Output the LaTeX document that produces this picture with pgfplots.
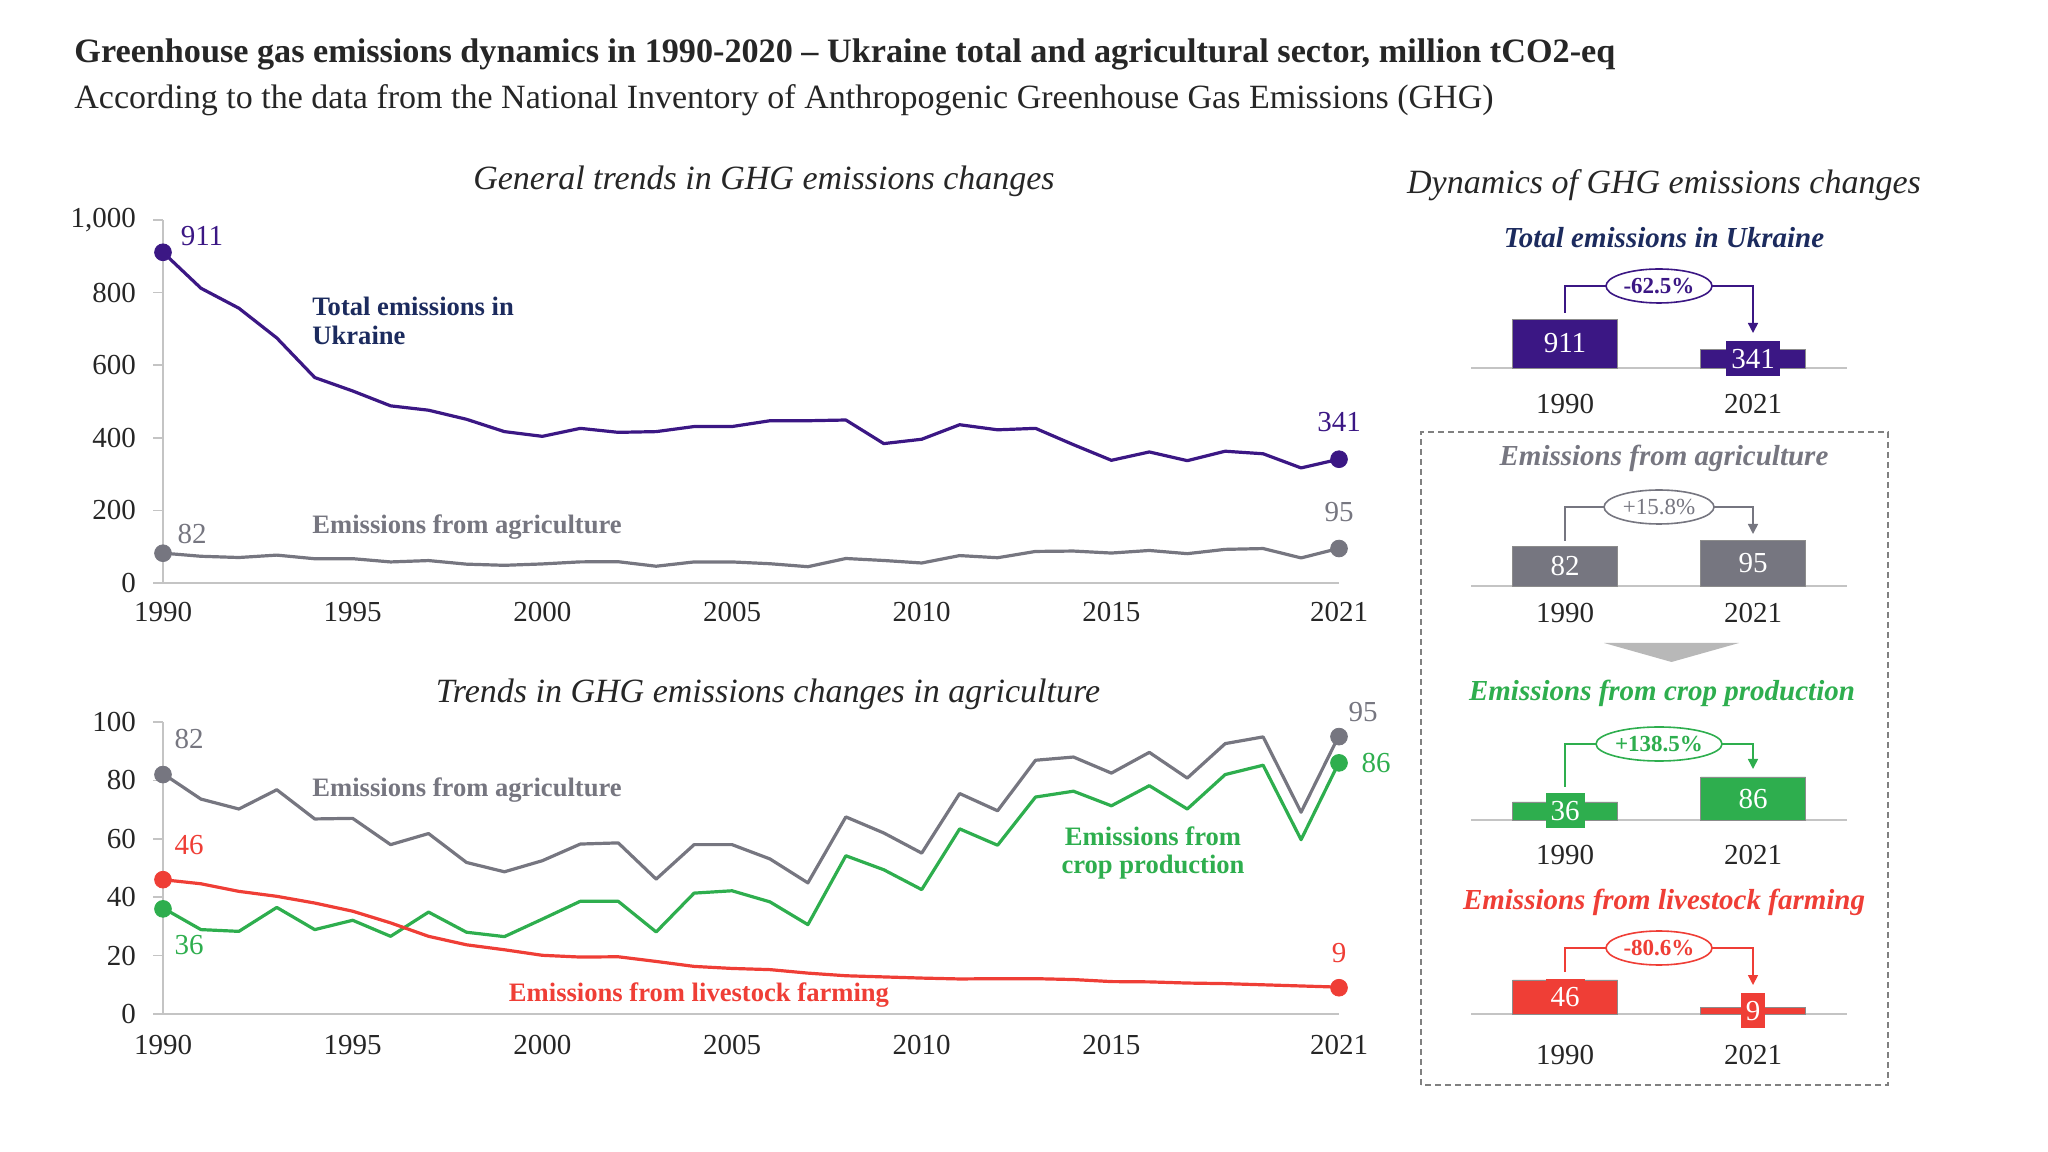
\documentclass[border=0pt]{standalone}
\usepackage{fontspec}
\setmainfont{Liberation Serif}
\usepackage{pgfplots}
\pgfplotsset{compat=1.18}
\usepackage{pgfplotstable}
\usetikzlibrary{arrows.meta,shapes.geometric}

\definecolor{cPur}{HTML}{3B1784}
\definecolor{cNavy}{HTML}{1C2B5E}
\definecolor{cGray}{HTML}{767680}
\definecolor{cGreen}{HTML}{2EAE4E}
\definecolor{cRed}{HTML}{EF3E36}
\definecolor{cAxis}{HTML}{C4C4C4}
\definecolor{cText}{HTML}{262626}

\newcommand\tickfont{\fontsize{14.5}{16}\selectfont}
\newcommand\lblfont{\fontsize{13.3}{14.3}\selectfont\bfseries}
\newcommand\headfont{\fontsize{14.5}{16}\selectfont\bfseries\itshape}
\newcommand\pctfont{\fontsize{11.5}{12}\selectfont}
\newcommand\ttlfont{\fontsize{17}{19}\selectfont\itshape}

% values, million tCO2-eq
\pgfplotstableread{
year total agri crop live
1990 911 82.3 36.3 46.0
1991 812 73.6 28.9 44.6
1992 757 70.2 28.3 42.0
1993 675 76.8 36.5 40.3
1994 566 66.8 28.9 38.0
1995 529 67.0 32.1 35.2
1996 488 58.0 26.6 31.2
1997 476 61.8 34.9 26.6
1998 451 51.9 28.0 23.7
1999 417 48.7 26.5 22.0
2000 404 52.5 32.5 20.1
2001 426 58.2 38.6 19.5
2002 415 58.6 38.6 19.6
2003 417 46.2 28.1 18.0
2004 431 58.0 41.4 16.3
2005 431 58.0 42.2 15.6
2006 447 53.1 38.4 15.2
2007 447 44.9 30.6 14.0
2008 449 67.5 54.2 13.1
2009 384 62.0 49.4 12.7
2010 396 55.1 42.6 12.3
2011 436 75.5 63.4 12.0
2012 422 69.6 57.8 12.1
2013 426 86.9 74.3 12.1
2014 381 88.0 76.3 11.8
2015 338 82.5 71.3 11.1
2016 361 89.6 78.2 11.0
2017 337 80.8 70.2 10.6
2018 363 92.6 82.0 10.4
2019 356 94.9 85.2 10.0
2020 317 69.1 59.7 9.6
2021 341 95.4 86.2 9.2
}\ghg

\tikzset{
  pct/.style={ellipse, fill=white, line width=0.8pt, inner sep=0pt,
    minimum width=53pt, minimum height=17pt, font=\pctfont},
}

\pgfplotsset{
  /pgf/number format/assume math mode=true,
  lineax/.style={
    scale only axis, anchor=south west,
    axis lines=left,
    axis line style={draw=cAxis, line width=0.8pt, -},
    enlargelimits=false, clip=false,
    xmin=1990, xmax=2021,
    xtick={1990,1995,2000,2005,2010,2015,2021},
    xticklabels={1990,1995,2000,2005,2010,2015,2021},
    x tick style={draw=none},
    y tick style={draw=cAxis, line width=0.8pt},
    tick align=outside, major tick length=5pt,
    tick label style={font=\tickfont, text=cText},
    yticklabel style={xshift=-5pt},
    xticklabel style={yshift=-1pt},
  },
  barax/.style={
    scale only axis, anchor=south west,
    width=188pt, height=30pt,
    xmin=-0.5, xmax=1.5, ymin=0,
    enlargelimits=false, clip=false,
    ybar, bar width=52.5pt,
    axis x line=bottom, axis y line=none,
    x axis line style={draw=cAxis, line width=0.8pt, -},
    xtick={0,1}, xticklabels={1990,2021},
    major tick length=0pt, ytick=\empty,
    xticklabel style={font=\tickfont, text=cText},
    nodes near coords,
    visualization depends on={y \as \rawy},
    every node near coord/.append style={anchor=center, text=white,
      font=\tickfont, inner xsep=2.5pt, inner ysep=0pt,
      minimum height=17.5pt,
      shift={(axis direction cs:0,-\rawy/2)}},
  },
}

\begin{document}
\begin{tikzpicture}
\useasboundingbox (0,0) rectangle (1024pt,575.5pt);

\node[anchor=west, inner sep=0pt, text=cText, font=\fontsize{17.1}{19}\selectfont\bfseries]
  at (37pt,548.5pt) {Greenhouse gas emissions dynamics in 1990-2020 -- Ukraine total and agricultural sector, million tCO2-eq};
\node[anchor=west, inner sep=0pt, text=cText, font=\fontsize{17}{19}\selectfont]
  at (37pt,525.5pt) {According to the data from the National Inventory of Anthropogenic Greenhouse Gas Emissions (GHG)};

\node[text=cText, font=\ttlfont] at (382pt,485pt) {General trends in GHG emissions changes};
\node[text=cText, font=\ttlfont] at (384pt,228.5pt) {Trends in GHG emissions changes in agriculture};
\node[text=cText, font=\ttlfont] at (832pt,483pt) {Dynamics of GHG emissions changes};

% ---- top: total and agriculture
\begin{axis}[lineax, at={(81.5pt,284pt)}, width=588pt, height=181.5pt,
  ymin=0, ymax=1000, ytick={0,200,400,600,800,1000},
  yticklabels={0,200,400,600,800,{1,000}}]
\addplot[cGray, line width=1.6pt, line join=round] table[x=year,y=agri]{\ghg};
\addplot[cPur, line width=1.6pt, line join=round] table[x=year,y=total]{\ghg};
\addplot[only marks, mark=*, mark size=4.2pt, cPur] coordinates {(1990,911) (2021,341)};
\addplot[only marks, mark=*, mark size=4.2pt, cGray] coordinates {(1990,82) (2021,95)};
\node[text=cPur, font=\tickfont] at ([xshift=19.5pt,yshift=8pt]axis cs:1990,911) {911};
\node[text=cPur, font=\tickfont] at ([yshift=18.5pt]axis cs:2021,341) {341};
\node[text=cGray, font=\tickfont] at ([xshift=14.5pt,yshift=9.5pt]axis cs:1990,82) {82};
\node[text=cGray, font=\tickfont] at ([yshift=18pt]axis cs:2021,95) {95};
\end{axis}
\node[anchor=west, align=left, text=cNavy, font=\lblfont, inner sep=0pt] at (156pt,415pt) {Total emissions in\\Ukraine};
\node[anchor=west, text=cGray, font=\lblfont, inner sep=0pt] at (156pt,312pt) {Emissions from agriculture};

% ---- bottom: agriculture split
\begin{axis}[lineax, at={(81.5pt,68.5pt)}, width=588pt, height=146pt,
  ymin=0, ymax=100, ytick={0,20,40,60,80,100}, xticklabel style={yshift=-1pt}]
\addplot[cGray, line width=1.6pt, line join=round] table[x=year,y=agri]{\ghg};
\addplot[cGreen, line width=1.6pt, line join=round] table[x=year,y=crop]{\ghg};
\addplot[cRed, line width=1.6pt, line join=round] table[x=year,y=live]{\ghg};
\addplot[only marks, mark=*, mark size=4.2pt, cGray] coordinates {(1990,82) (2021,95)};
\addplot[only marks, mark=*, mark size=4.2pt, cGreen] coordinates {(1990,36) (2021,86)};
\addplot[only marks, mark=*, mark size=4.2pt, cRed] coordinates {(1990,46) (2021,9)};
\node[text=cGray, font=\tickfont] at ([xshift=13pt,yshift=17.8pt]axis cs:1990,82) {82};
\node[text=cRed, font=\tickfont] at ([xshift=13pt,yshift=17.3pt]axis cs:1990,46) {46};
\node[text=cGreen, font=\tickfont] at ([xshift=13pt,yshift=-18pt]axis cs:1990,36) {36};
\node[text=cGray, font=\tickfont] at ([xshift=12pt,yshift=12.3pt]axis cs:2021,95) {95};
\node[text=cGreen, font=\tickfont] at ([xshift=18.5pt]axis cs:2021,86) {86};
\node[text=cRed, font=\tickfont] at ([yshift=17.4pt]axis cs:2021,9) {9};
\end{axis}
\node[anchor=west, text=cGray, font=\lblfont, inner sep=0pt] at (156pt,180.5pt) {Emissions from agriculture};
\node[align=center, text=cGreen, font=\lblfont, inner sep=0pt] at (576.5pt,149pt) {Emissions from\\crop production};
\node[text=cRed, font=\lblfont, inner sep=0pt] at (349.5pt,78pt) {Emissions from livestock farming};

% ---- right: 1990 vs 2021
\draw[black!50, line width=0.8pt, dash pattern=on 3pt off 2pt] (710.5pt,33pt) rectangle (944pt,359.5pt);
\fill[black!28] (802pt,254pt) -- (869.5pt,254pt) -- (835.75pt,244.5pt) -- cycle;

\node[text=cNavy, font=\headfont] at (832pt,456.5pt) {Total emissions in Ukraine};
\begin{axis}[barax, at={(735.5pt,391.5pt)}, ymax=1116,
  xticklabel style={yshift=-9.5pt},
  every node near coord/.append style={fill=cPur}]
\addplot[fill=cPur, draw=black!45, line width=0.4pt] coordinates {(0,911) (1,341)};
\draw[cPur, line width=0.8pt, -{Triangle[width=5pt,length=5pt]}]
  ([yshift=27.7pt]axis cs:0,0) |- ([yshift=41pt]axis cs:1,0) -- ([yshift=17.5pt]axis cs:1,0);
\node[pct, draw=cPur, text=cPur, font=\pctfont\bfseries] at ([yshift=41pt]axis cs:0.5,0) {-62.5\%};
\end{axis}

\node[text=cGray, font=\headfont] at (832pt,346.5pt) {Emissions from agriculture};
\begin{axis}[barax, at={(735.5pt,282.5pt)}, ymax=124,
  xticklabel style={yshift=-5pt},
  every node near coord/.append style={fill=cGray}]
\addplot[fill=cGray, draw=black!45, line width=0.4pt] coordinates {(0,82) (1,95)};
\draw[cGray, line width=0.8pt, -{Triangle[width=5pt,length=5pt]}]
  ([yshift=22.5pt]axis cs:0,0) |- ([yshift=39.5pt]axis cs:1,0) -- ([yshift=26pt]axis cs:1,0);
\node[pct, draw=cGray, text=cGray, minimum width=55pt] at ([yshift=39.5pt]axis cs:0.5,0) {+15.8\%};
\end{axis}

\node[text=cGreen, font=\headfont] at (831pt,229pt) {Emissions from crop production};
\begin{axis}[barax, at={(735.5pt,165.5pt)}, ymax=120,
  xticklabel style={yshift=-9pt},
  every node near coord/.append style={fill=cGreen}]
\addplot[fill=cGreen, draw=black!45, line width=0.4pt] coordinates {(0,36) (1,86)};
\draw[cGreen, line width=0.8pt, -{Triangle[width=5pt,length=5pt]}]
  ([yshift=16.5pt]axis cs:0,0) |- ([yshift=38pt]axis cs:1,0) -- ([yshift=25.5pt]axis cs:1,0);
\node[pct, draw=cGreen, text=cGreen, font=\pctfont\bfseries, minimum width=63pt] at ([yshift=38pt]axis cs:0.5,0) {+138.5\%};
\end{axis}

\node[text=cRed, font=\headfont] at (832pt,124.5pt) {Emissions from livestock farming};
\begin{axis}[barax, at={(735.5pt,68.5pt)}, ymax=81,
  xticklabel style={yshift=-12pt},
  every node near coord/.append style={fill=cRed}]
\addplot[fill=cRed, draw=black!45, line width=0.4pt] coordinates {(0,46) (1,9)};
\draw[cRed, line width=0.8pt, -{Triangle[width=5pt,length=5pt]}]
  ([yshift=21pt]axis cs:0,0) |- ([yshift=33pt]axis cs:1,0) -- ([yshift=14.5pt]axis cs:1,0);
\node[pct, draw=cRed, text=cRed, font=\pctfont\bfseries] at ([yshift=33pt]axis cs:0.5,0) {-80.6\%};
\end{axis}
\end{tikzpicture}
\end{document}
